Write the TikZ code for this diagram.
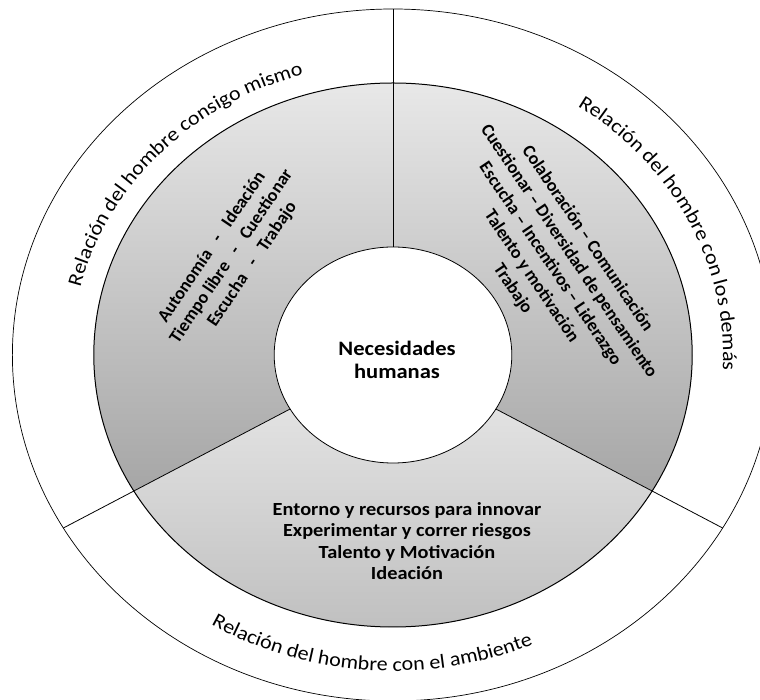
\documentclass[tikz,border=0pt]{standalone}
\usepackage{fontspec}
\setmainfont{Carlito}
\newfontfamily\widefont[FakeStretch=1.1]{Carlito}
\usetikzlibrary{decorations.text}
\definecolor{lt}{RGB}{232, 232, 232}
\definecolor{dk}{RGB}{166, 166, 166}
\definecolor{lt2}{RGB}{226, 226, 226}
\definecolor{dk2}{RGB}{186, 186, 186}

\begin{document}
\begin{tikzpicture}[x=1.1pt, y=1pt, line width=0.8pt,
  sector/.style={top color=lt, bottom color=dk},
  lowsector/.style={top color=lt2, bottom color=dk2},
  listtext/.style={font=\bfseries\fontsize{18}{21.5}\selectfont, align=center, inner sep=0pt},
  ringtext/.style={decorate, decoration={text along path, text align=center, text={#1}}}]
\useasboundingbox (-393pt,-345pt) rectangle (367pt,355pt);
\path[sector] (90:272) arc[start angle=90, end angle=210, radius=272] -- (210:108) arc[start angle=210, end angle=90, radius=108] -- cycle;
\path[sector] (-30:272) arc[start angle=-30, end angle=90, radius=272] -- (90:108) arc[start angle=90, end angle=-30, radius=108] -- cycle;
\path[lowsector] (210:272) arc[start angle=210, end angle=330, radius=272] -- (330:108) arc[start angle=330, end angle=210, radius=108] -- cycle;
\draw[line width=0.7pt] (0,0) circle[radius=346];
\draw[line width=1pt] (0,0) circle[radius=272];
\draw[fill=white] (0,0) circle[radius=108];
\foreach \a in {90,210,330} {
  \coordinate (in\a) at (\a:108);
  \coordinate (out\a) at (\a:346);
  \draw (in\a) -- (out\a);
}
\node[font=\widefont\bfseries\fontsize{20.5}{23}\selectfont, align=center] (centro) at (4pt,-5pt) {Necesidades\\humanas};
\node[listtext, rotate=56] (mismo) at (-161pt,98pt) {\begin{tabular}{@{}r@{\hspace{0.7em}-\hspace{0.7em}}l@{}}
  Autonomía & Ideación\\
  Tiempo libre & Cuestionar\\
  Escucha & Trabajo
\end{tabular}};
\node[listtext, font=\bfseries\fontsize{18}{22.5}\selectfont, rotate=-56] (demas) at (157pt,91pt) {Colaboración – Comunicación\\Cuestionar – Diversidad de pensamiento\\Escucha – Incentivos – Liderazgo\\Talento y motivación\\Trabajo};
\node[listtext, font=\widefont\bfseries\fontsize{18.5}{21.5}\selectfont] (ambiente) at (14pt,-186pt) {Entorno y recursos para innovar\\Experimentar y correr riesgos\\Talento y Motivación\\Ideación};
\path[ringtext={|\widefont\fontsize{20}{24}\selectfont|Relación del hombre consigo mismo}] (180:292) arc[start angle=180, end angle=94, radius=292];
\path[ringtext={|\widefont\fontsize{20}{24}\selectfont|Relación del hombre con los demás}] (70:300) arc[start angle=70, end angle=-18, radius=300];
\path[ringtext={|\widefont\fontsize{20}{24}\selectfont|Relación del hombre con el ambiente}] (222:316) arc[start angle=222, end angle=310, radius=316];
\end{tikzpicture}
\end{document}
